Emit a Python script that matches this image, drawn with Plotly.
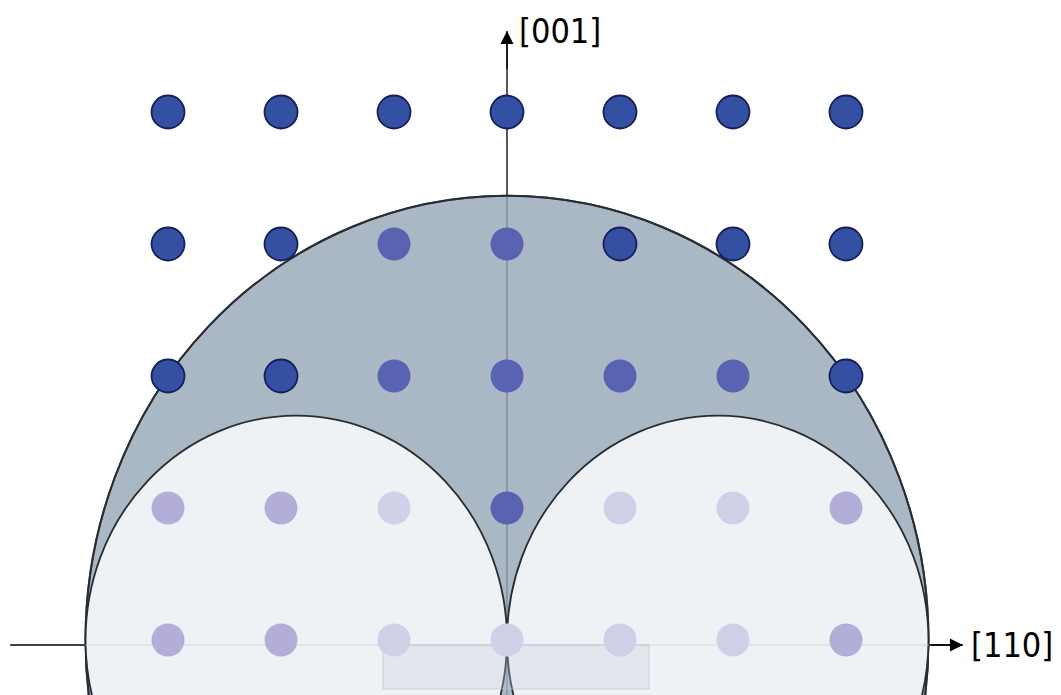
import plotly.graph_objects as go

# Reciprocal-lattice indices along [110] (h) and [001] (l)
H_INDEX = [-3, -2, -1, 0, 1, 2, 3]
L_INDEX = [0, 1, 2, 3, 4]

# Spot class per row (l), listed for h = -3 .. 3
#   d = reachable, outside / on the limiting sphere
#   m = inside the limiting sphere, accessible
#   p = inside the Ewald spheres, weak
#   w = inside the Ewald spheres, very weak
SPOT_CLASS = {
    4: ["d", "d", "d", "d", "d", "d", "d"],
    3: ["d", "d", "m", "m", "d", "d", "d"],
    2: ["d", "d", "m", "m", "m", "m", "d"],
    1: ["p", "p", "w", "m", "w", "w", "p"],
    0: ["p", "p", "w", "w", "w", "w", "p"],
}

# Ewald sphere and limiting sphere semi-axes (axis units)
EWALD_R = (1.865, 1.70)
LIMIT_R = (3.73, 3.365)

AXIS_LABELS = ["[001]", "[110]"]

CLASS_STYLE = {
    "d": dict(color="rgb(52,80,162)", line=dict(color="rgb(22,32,88)", width=1.8)),
    "m": dict(color="rgb(90,98,178)", line=dict(width=0)),
    "p": dict(color="rgb(178,174,215)", line=dict(width=0)),
    "w": dict(color="rgb(208,208,232)", line=dict(width=0)),
}

X_RANGE = [-4.487, 4.903]
Y_RANGE = [-0.4167, 4.8485]
H_AXIS_Y = -0.038
X_TIP = 4.035
Y_TIP = 4.614

fig = go.Figure()

shapes = []
# axis lines (under the spheres, showing faintly through them)
shapes.append(dict(type="line", xref="x", yref="y", x0=0, x1=0, y0=Y_RANGE[0] - 0.1, y1=Y_TIP,
                   line=dict(color="black", width=1.3), layer="below"))
shapes.append(dict(type="line", xref="x", yref="y", x0=X_RANGE[0] + 0.09, x1=X_TIP, y0=H_AXIS_Y, y1=H_AXIS_Y,
                   line=dict(color="black", width=1.3), layer="below"))
# limiting sphere
shapes.append(dict(type="circle", xref="x", yref="y",
                   x0=-LIMIT_R[0], x1=LIMIT_R[0], y0=-LIMIT_R[1], y1=LIMIT_R[1],
                   fillcolor="rgb(150,168,183)", opacity=0.81,
                   line=dict(color="rgb(40,45,50)", width=2), layer="below"))
shapes.append(dict(type="circle", xref="x", yref="y",
                   x0=-LIMIT_R[0], x1=LIMIT_R[0], y0=-LIMIT_R[1], y1=LIMIT_R[1],
                   fillcolor="rgba(0,0,0,0)",
                   line=dict(color="rgb(40,45,50)", width=2), layer="below"))
# two Ewald spheres through the origin
for sign in (-1, 1):
    cx = sign * EWALD_R[0]
    shapes.append(dict(type="circle", xref="x", yref="y",
                       x0=cx - EWALD_R[0], x1=cx + EWALD_R[0], y0=-EWALD_R[1], y1=EWALD_R[1],
                       fillcolor="rgb(238,242,245)",
                       line=dict(color="rgb(40,45,50)", width=1.8), layer="below"))
# faint continuation of the [110] axis across the spheres
shapes.append(dict(type="line", xref="x", yref="y", x0=-LIMIT_R[0], x1=LIMIT_R[0], y0=H_AXIS_Y, y1=H_AXIS_Y,
                   line=dict(color="rgb(208,213,218)", width=1.2), layer="below"))
# sample footprint box
shapes.append(dict(type="rect", xref="x", yref="y", x0=-1.097, x1=1.257, y0=-0.371, y1=H_AXIS_Y,
                   fillcolor="rgba(195,205,218,0.30)",
                   line=dict(color="rgba(185,192,202,0.7)", width=1), layer="below"))

# lattice spots
for cls in ["w", "p", "m", "d"]:
    xs, ys = [], []
    for l in L_INDEX:
        for h, c in zip(H_INDEX, SPOT_CLASS[l]):
            if c == cls:
                xs.append(h)
                ys.append(l)
    st = CLASS_STYLE[cls]
    fig.add_trace(go.Scatter(x=xs, y=ys, mode="markers", hoverinfo="skip",
                             marker=dict(size=33, color=st["color"], line=st["line"])))

annotations = [
    # arrowheads
    dict(x=0, y=Y_TIP, ax=0, ay=Y_TIP - 0.3, xref="x", yref="y", axref="x", ayref="y",
         text="", showarrow=True, arrowhead=2, arrowsize=2.0, arrowwidth=1.3, arrowcolor="black", standoff=0),
    dict(x=X_TIP, y=H_AXIS_Y, ax=X_TIP - 0.3, ay=H_AXIS_Y, xref="x", yref="y", axref="x", ayref="y",
         text="", showarrow=True, arrowhead=2, arrowsize=2.0, arrowwidth=1.3, arrowcolor="black", standoff=0),
    dict(x=0.088, y=Y_TIP, xref="x", yref="y", text=AXIS_LABELS[0], showarrow=False,
         xanchor="left", yanchor="middle",
         font=dict(family="DejaVu Sans Condensed, DejaVu Sans", size=34, color="black")),
    dict(x=X_TIP + 0.055, y=H_AXIS_Y, xref="x", yref="y", text=AXIS_LABELS[1], showarrow=False,
         xanchor="left", yanchor="middle",
         font=dict(family="DejaVu Sans Condensed, DejaVu Sans", size=34, color="black")),
]

fig.update_layout(
    width=1061, height=695,
    margin=dict(l=0, r=0, t=0, b=0),
    paper_bgcolor="white", plot_bgcolor="white",
    showlegend=False,
    shapes=shapes,
    annotations=annotations,
    xaxis=dict(range=X_RANGE, visible=False, fixedrange=True),
    yaxis=dict(range=Y_RANGE, visible=False, fixedrange=True),
)

fig.write_html("out.html")
